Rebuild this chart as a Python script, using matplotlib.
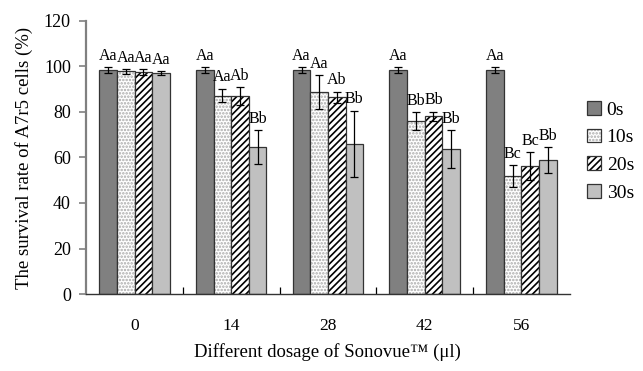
import matplotlib
matplotlib.use("Agg")
import matplotlib.pyplot as plt
import numpy as np

plt.rcParams['font.family'] = ['Liberation Serif', 'DejaVu Serif']
plt.rcParams['hatch.linewidth'] = 1.2

categories = ['0', '14', '28', '42', '56']
series = ['0s', '10s', '20s', '30s']
means = {
    '0s':  [98.5, 98.5, 98.5, 98.5, 98.5],
    '10s': [97.8, 87.2, 88.8, 76.0, 51.9],
    '20s': [97.4, 86.9, 86.5, 78.1, 56.3],
    '30s': [97.0, 64.5, 66.0, 63.6, 58.9],
}
errors = {
    '0s':  [1.2, 1.2, 1.2, 1.2, 1.2],
    '10s': [1.0, 3.0, 7.5, 3.9, 4.8],
    '20s': [1.3, 4.0, 2.5, 2.0, 6.0],
    '30s': [0.9, 7.5, 14.5, 8.4, 5.7],
}
letters = {
    '0s':  ['Aa', 'Aa', 'Aa', 'Aa', 'Aa'],
    '10s': ['Aa', 'Aa', 'Aa', 'Bb', 'Bc'],
    '20s': ['Aa', 'Ab', 'Ab', 'Bb', 'Bc'],
    '30s': ['Aa', 'Bb', 'Bb', 'Bb', 'Bb'],
}
styles = {
    '0s':  dict(facecolor='#808080', hatch=None),
    '10s': dict(facecolor='white', hatch='.....'),
    '20s': dict(facecolor='white', hatch='/////'),
    '30s': dict(facecolor='#c0c0c0', hatch=None),
}

fig = plt.figure(figsize=(6.43, 3.71), dpi=100)
ax = fig.add_axes([0.134, 0.2075, 0.752, 0.736])

x = np.arange(len(categories))
w = 0.182
for i, s in enumerate(series):
    pos = x + (i - 1.5) * w
    st = styles[s]
    hatch_color = '#aaaaaa' if s == '10s' else 'black'
    bars = ax.bar(pos, means[s], width=w, facecolor=st['facecolor'],
                  edgecolor='#333333', linewidth=0.9, label=s, zorder=2)
    if st['hatch']:
        for b in bars:
            b.set_hatch(st['hatch'])
            b._hatch_color = matplotlib.colors.to_rgba(hatch_color)
    ax.errorbar(pos, means[s], yerr=errors[s], fmt='none', ecolor='black',
                elinewidth=0.9, capsize=3, capthick=0.9, zorder=3)
    for p, m, e, t in zip(pos, means[s], errors[s], letters[s]):
        ax.text(p, m + e + 5, t, ha='center', va='center', fontsize=11.5)

ax.set_xlim(-0.5, 4.5)
ax.set_ylim(0, 120)
ax.set_yticks(np.arange(0, 121, 20))
ax.set_xticks(x)
ax.set_xticklabels(categories)
ax.set_xticks(np.arange(0.5, 4.5, 1), minor=True)
ax.tick_params(axis='x', which='major', length=0, labelsize=12.5, pad=17)
ax.tick_params(axis='x', which='minor', direction='in', length=5, width=0.9)
ax.tick_params(axis='y', direction='out', length=5, width=1.2, color='#808080', labelsize=13, pad=6)

for sp in ['top', 'right']:
    ax.spines[sp].set_visible(False)
ax.spines['left'].set_color('#808080')
ax.spines['left'].set_linewidth(1.6)
ax.spines['bottom'].set_color('#333333')
ax.spines['bottom'].set_linewidth(1.0)

ax.set_xlabel('Different dosage of Sonovue™ (μl)', fontsize=13.5, labelpad=7)
ax.set_ylabel('The survival rate of A7r5 cells (%)', fontsize=13.5, labelpad=8)

leg = fig.legend(loc='upper left', bbox_to_anchor=(0.886, 0.775), frameon=False,
                 fontsize=14, handlelength=0.7, handleheight=0.7,
                 labelspacing=0.52, handletextpad=0.3)

fig.savefig('out.png', dpi=100)
